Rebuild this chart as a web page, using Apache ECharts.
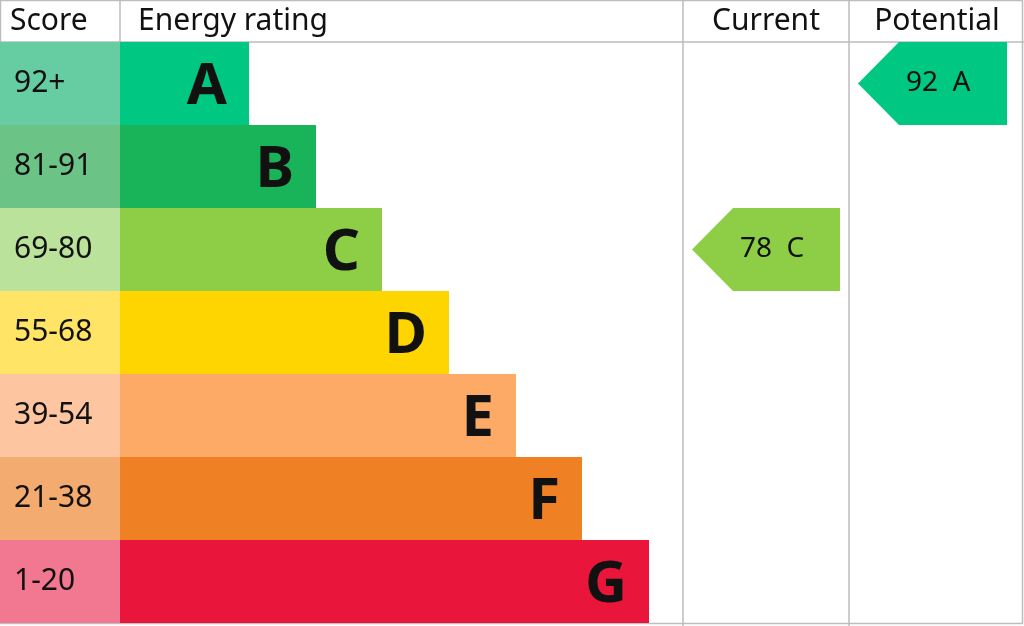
<!DOCTYPE html>
<html><head><meta charset="utf-8">
<script src="https://cdn.jsdelivr.net/npm/echarts@6/dist/echarts.min.js"></script>
<style>html,body{margin:0;padding:0;background:#fff}#c{width:1024px;height:626px}</style>
</head><body><div id="c"></div>
<script>
const ratings = ['A','B','C','D','E','F','G'];
const scoreRanges = ['92+','81-91','69-80','55-68','39-54','21-38','1-20'];
const barEnds = [249,316,382,449,516,582,649];
const barColors = ['#00c781','#19b459','#8dce46','#ffd500','#fcaa65','#ef8023','#e9153b'];
const scoreColors = ['#66cda3','#6cc386','#bae29a','#ffe466','#fdc6a1','#f4ab6f','#f27790'];
const headers = ['Score','Energy rating','Current','Potential'];
const currentScore = 78, currentBand = 'C';
const potentialScore = 92, potentialBand = 'A';

const chart = echarts.init(document.getElementById('c'));
const FONT = '"Noto Sans", "Open Sans", sans-serif';
const LINE = '#bdbdbd';

function bandIdx(b){return ratings.indexOf(b);}

chart.setOption({
  animation:false,
  grid:{left:0,right:0,top:42,bottom:3},
  xAxis:{type:'value',min:0,max:1024,show:false},
  yAxis:{type:'category',data:ratings,inverse:true,show:false},
  series:[
    {type:'custom',data:ratings.map((r,i)=>[i]),
     renderItem:(p,api)=>{
       const i=api.value(0);
       const h=api.size([0,1])[1];
       const a=api.coord([0,i]), b=api.coord([120,i]), e=api.coord([barEnds[i],i]);
       const y0=a[1]-h/2;
       return {type:'group',children:[
         {type:'rect',shape:{x:a[0],y:y0,width:b[0]-a[0],height:h},style:{fill:scoreColors[i]}},
         {type:'text',style:{x:a[0]+14,y:a[1],text:scoreRanges[i],fill:'#111',font:'30px '+FONT,textVerticalAlign:'middle'}},
         {type:'rect',shape:{x:b[0],y:y0,width:e[0]-b[0],height:h},style:{fill:barColors[i]}},
         {type:'text',style:{x:e[0]-22,y:a[1]+4,text:ratings[i],fill:'#111',font:'bold 58px '+FONT,textAlign:'right',textVerticalAlign:'middle'}}
       ]};
     }},
    {type:'custom',data:[[bandIdx(currentBand),currentScore,692,840],[bandIdx(potentialBand),potentialScore,858,1007]],
     renderItem:(p,api)=>{
       const i=api.value(0), s=api.value(1);
       const h=api.size([0,1])[1];
       const l=api.coord([api.value(2),i]), r=api.coord([api.value(3),i]);
       const y0=l[1]-h/2, y1=l[1]+h/2, tip=l[0]+41;
       const band=ratings[i];
       return {type:'group',children:[
         {type:'polygon',shape:{points:[[l[0],l[1]],[tip,y0],[r[0],y0],[r[0],y1],[tip,y1]]},style:{fill:barColors[i]}},
         {type:'text',style:{x:l[0]+48,y:l[1],text:s+'  '+band,fill:'#111',font:'28px '+FONT,textVerticalAlign:'middle'}}
       ]};
     }}
  ],
  graphic:[
    {type:'rect',shape:{x:0.5,y:0.5,width:1022,height:623},style:{fill:null,stroke:LINE,lineWidth:1.5}},
    {type:'line',shape:{x1:0,y1:42,x2:1024,y2:42},style:{stroke:LINE,lineWidth:1.5}},
    {type:'line',shape:{x1:120,y1:0,x2:120,y2:42},style:{stroke:LINE,lineWidth:1.5}},
    {type:'line',shape:{x1:683,y1:0,x2:683,y2:626},style:{stroke:LINE,lineWidth:1.5}},
    {type:'line',shape:{x1:849,y1:0,x2:849,y2:626},style:{stroke:LINE,lineWidth:1.5}},
    {type:'text',style:{x:10,y:21,text:headers[0],fill:'#111',font:'30px '+FONT,textVerticalAlign:'middle'}},
    {type:'text',style:{x:138,y:21,text:headers[1],fill:'#111',font:'30px '+FONT,textVerticalAlign:'middle'}},
    {type:'text',style:{x:766,y:21,text:headers[2],fill:'#111',font:'30px '+FONT,textAlign:'center',textVerticalAlign:'middle'}},
    {type:'text',style:{x:937,y:21,text:headers[3],fill:'#111',font:'30px '+FONT,textAlign:'center',textVerticalAlign:'middle'}}
  ]
});
</script></body></html>
